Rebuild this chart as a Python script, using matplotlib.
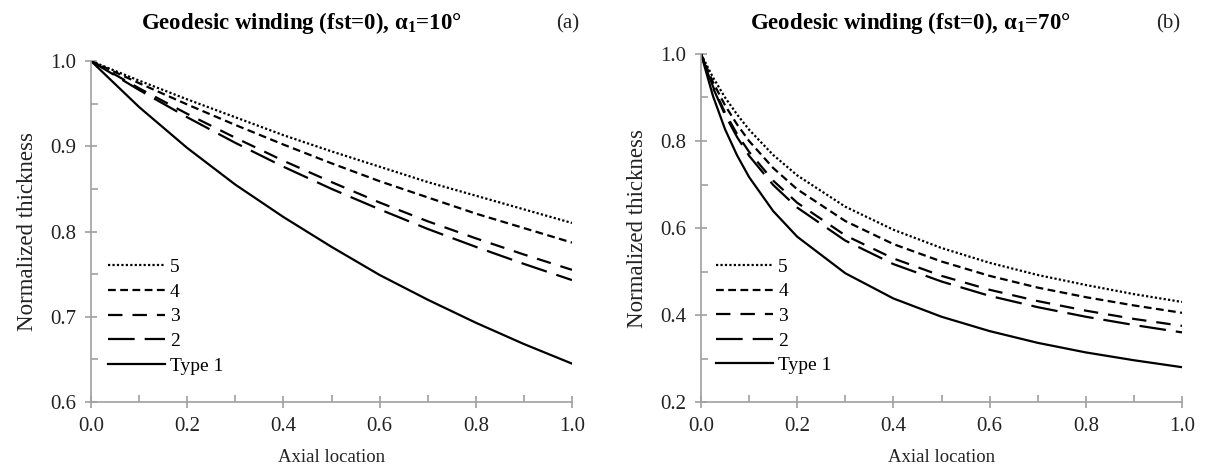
import matplotlib
matplotlib.use("Agg")
import matplotlib.pyplot as plt

plt.rcParams['font.family'] = ['Liberation Serif', 'DejaVu Serif']
plt.rcParams['mathtext.fontset'] = 'custom'
plt.rcParams['mathtext.rm'] = 'Liberation Serif'
plt.rcParams['mathtext.it'] = 'Liberation Serif:italic'
plt.rcParams['mathtext.bf'] = 'Liberation Serif:bold'

## data
# (a) alpha_1 = 10 deg
x_a = [0.0, 0.1, 0.2, 0.3, 0.4, 0.5, 0.6, 0.7, 0.8, 0.9, 1.0]
a_type1 = [1.0, 0.946, 0.898, 0.855, 0.817, 0.782, 0.749, 0.720, 0.693, 0.668, 0.645]
a_type2 = [1.0, 0.966, 0.934, 0.904, 0.876, 0.850, 0.826, 0.803, 0.782, 0.762, 0.743]
a_type3 = [1.0, 0.968, 0.938, 0.910, 0.883, 0.858, 0.834, 0.812, 0.792, 0.773, 0.755]
a_type4 = [1.0, 0.974, 0.949, 0.925, 0.902, 0.880, 0.859, 0.840, 0.821, 0.804, 0.787]
a_type5 = [1.0, 0.977, 0.955, 0.934, 0.913, 0.894, 0.876, 0.858, 0.842, 0.826, 0.810]

# (b) alpha_1 = 70 deg
x_b = [0.0, 0.025, 0.05, 0.075, 0.1, 0.15, 0.2, 0.3, 0.4, 0.5, 0.6, 0.7, 0.8, 0.9, 1.0]
b_type1 = [1.0, 0.903, 0.827, 0.767, 0.717, 0.639, 0.580, 0.496, 0.438, 0.396, 0.363, 0.336, 0.314, 0.296, 0.280]
b_type2 = [1.0, 0.922, 0.860, 0.809, 0.766, 0.699, 0.647, 0.571, 0.517, 0.477, 0.444, 0.418, 0.396, 0.377, 0.360]
b_type3 = [1.0, 0.925, 0.865, 0.816, 0.775, 0.709, 0.658, 0.583, 0.530, 0.490, 0.458, 0.432, 0.410, 0.391, 0.375]
b_type4 = [1.0, 0.935, 0.882, 0.838, 0.800, 0.738, 0.689, 0.616, 0.563, 0.523, 0.490, 0.463, 0.441, 0.422, 0.405]
b_type5 = [1.0, 0.946, 0.900, 0.861, 0.826, 0.768, 0.721, 0.649, 0.596, 0.554, 0.520, 0.492, 0.469, 0.448, 0.430]

labels = ['5', '4', '3', '2', 'Type 1']
dashes = [(1, 1), (3.5, 2), (6.5, 4.5), (12, 4.5), None]

grey = '#a0a0a0'
txt = '#222222'

fig = plt.figure(figsize=(12.05, 4.69), dpi=100)
ax1 = fig.add_axes([91/1205, 67/469, 481/1205, 341/469])
ax2 = fig.add_axes([701/1205, 67/469, 481/1205, 348/469])


def draw(ax, x, series, ylim, ystep):
    for y, lab, d in zip(series, labels, dashes):
        line, = ax.plot(x, y, color='black', lw=1.6, label=lab)
        if d is not None:
            line.set_dashes(d)
    ax.set_xlim(0, 1)
    ax.set_ylim(*ylim)
    ax.set_xticks([i / 5 for i in range(6)])
    ax.set_xticks([i / 10 for i in range(11)], minor=True)
    n = round((ylim[1] - ylim[0]) / ystep)
    ax.set_yticks([ylim[0] + i * ystep for i in range(n + 1)])
    ax.set_yticks([ylim[0] + i * ystep / 2 for i in range(2 * n + 1)], minor=True)
    ax.xaxis.set_major_formatter(matplotlib.ticker.FormatStrFormatter('%.1f'))
    ax.yaxis.set_major_formatter(matplotlib.ticker.FormatStrFormatter('%.1f'))
    for s in ['top', 'right']:
        ax.spines[s].set_visible(False)
    for s in ['left', 'bottom']:
        ax.spines[s].set_color(grey)
        ax.spines[s].set_linewidth(1.2)
    ax.tick_params(which='major', direction='inout', length=9, width=1.2,
                   color=grey, labelsize=15, labelcolor=txt, pad=6)
    ax.tick_params(which='minor', direction='in', length=5, width=1.2, color=grey)
    ax.set_xlabel('Axial location', fontsize=13.5, color=txt, labelpad=10)
    ax.set_ylabel('Normalized thickness', fontsize=16.5, color=txt, labelpad=9)


draw(ax1, x_a, [a_type5, a_type4, a_type3, a_type2, a_type1], (0.6, 1.0), 0.1)
draw(ax2, x_b, [b_type5, b_type4, b_type3, b_type2, b_type1], (0.2, 1.0), 0.2)

for ax, bx in [(ax1, 0.035), (ax2, 0.031)]:
    ax.legend(loc='lower left', bbox_to_anchor=(bx, 0.08), frameon=False,
              fontsize=14, handlelength=2.95, handletextpad=0.25, labelspacing=0.36,
              borderpad=0, borderaxespad=0)

fig.text(301/1205, 1 - 23/469, r'Geodesic winding (fst=0), $\mathbf{\alpha_1}$=10°',
         ha='center', va='center', fontsize=16.5, fontweight='bold')
fig.text(910/1205, 1 - 23/469, r'Geodesic winding (fst=0), $\mathbf{\alpha_1}$=70°',
         ha='center', va='center', fontsize=16.5, fontweight='bold')
fig.text(568/1205, 1 - 24/469, '(a)', ha='center', va='center', fontsize=15, color=txt)
fig.text(1168/1205, 1 - 24/469, '(b)', ha='center', va='center', fontsize=15, color=txt)

fig.savefig('out.png', dpi=100)
